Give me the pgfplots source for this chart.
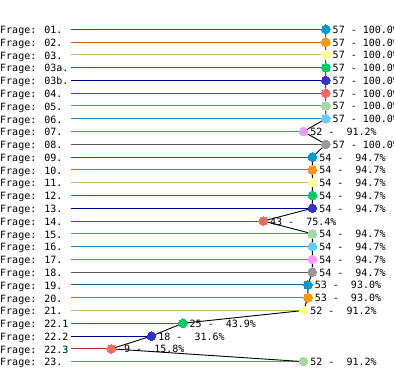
\documentclass[border=0pt]{standalone}
\usepackage{fontspec}
\setmainfont{DejaVu Sans Mono}
\usepackage{pgfplots}
\pgfplotsset{compat=1.18}
\definecolor{l0}{RGB}{26,90,138}
\definecolor{l1}{RGB}{204,102,0}
\definecolor{l2}{RGB}{195,190,90}
\definecolor{l3}{RGB}{30,130,50}
\definecolor{l4}{RGB}{0,0,140}
\definecolor{l5}{RGB}{190,40,40}
\definecolor{l6}{RGB}{100,155,95}
\definecolor{l7}{RGB}{30,140,200}
\definecolor{l8}{RGB}{180,90,190}
\definecolor{l9}{RGB}{90,90,90}
\definecolor{m0}{RGB}{0,153,204}
\definecolor{m1}{RGB}{255,153,0}
\definecolor{m2}{RGB}{255,255,153}
\definecolor{m3}{RGB}{0,204,102}
\definecolor{m4}{RGB}{51,51,204}
\definecolor{m5}{RGB}{255,102,102}
\definecolor{m6}{RGB}{165,215,165}
\definecolor{m7}{RGB}{102,204,255}
\definecolor{m8}{RGB}{255,153,255}
\definecolor{m9}{RGB}{153,153,153}
\pgfplotsset{
  rowline/.style 2 args={xcomb, color=#1, line width=1pt, mark=*, mark size=4.3pt,
    mark options={fill=#2, draw=#2, line width=0pt, solid}},
}
\begin{document}
\begin{tikzpicture}
\begin{axis}[
  at={(0,0)}, anchor=south west,
  scale only axis, width=394pt, height=373pt,
  hide axis, clip=false,
  xmin=-15.88, xmax=72.26,
  y dir=reverse, ymin=-2.29, ymax=26.89,
]
\addplot[rowline={l0}{m0}] coordinates {(57,0) (54,10) (53,20)};
\addplot[rowline={l1}{m1}] coordinates {(57,1) (54,11) (53,21)};
\addplot[rowline={l2}{m2}] coordinates {(57,2) (54,12) (52,22)};
\addplot[rowline={l3}{m3}] coordinates {(57,3) (54,13) (25,23)};
\addplot[rowline={l4}{m4}] coordinates {(57,4) (54,14) (18,24)};
\addplot[rowline={l5}{m5}] coordinates {(57,5) (43,15) (9,25)};
\addplot[rowline={l6}{m6}] coordinates {(57,6) (54,16) (52,26)};
\addplot[rowline={l7}{m7}] coordinates {(57,7) (54,17)};
\addplot[rowline={l8}{m8}] coordinates {(52,8) (54,18)};
\addplot[rowline={l9}{m9}] coordinates {(57,9) (54,19)};
% connecting line with value labels
\addplot[black, line width=0.9pt, mark=none,
  nodes near coords, point meta=explicit symbolic,
  every node near coord/.style={anchor=base west, inner sep=0pt, xshift=6.5pt, yshift=-4pt, text=black, font=\fontsize{10}{12}\selectfont}]
coordinates {
(57,0) [57 - 100.0\%]
(57,1) [57 - 100.0\%]
(57,2) [57 - 100.0\%]
(57,3) [57 - 100.0\%]
(57,4) [57 - 100.0\%]
(57,5) [57 - 100.0\%]
(57,6) [57 - 100.0\%]
(57,7) [57 - 100.0\%]
(52,8) [52 -~ 91.2\%]
(57,9) [57 - 100.0\%]
(54,10) [54 -~ 94.7\%]
(54,11) [54 -~ 94.7\%]
(54,12) [54 -~ 94.7\%]
(54,13) [54 -~ 94.7\%]
(54,14) [54 -~ 94.7\%]
(43,15) [43 -~ 75.4\%]
(54,16) [54 -~ 94.7\%]
(54,17) [54 -~ 94.7\%]
(54,18) [54 -~ 94.7\%]
(54,19) [54 -~ 94.7\%]
(53,20) [53 -~ 93.0\%]
(53,21) [53 -~ 93.0\%]
(52,22) [52 -~ 91.2\%]
(25,23) [25 -~ 43.9\%]
(18,24) [18 -~ 31.6\%]
(9,25) [\hphantom{0}9 -~ 15.8\%]
(52,26) [52 -~ 91.2\%]
};
% row labels
\addplot[draw=none, mark=none,
  nodes near coords, point meta=explicit symbolic,
  every node near coord/.style={anchor=base west, inner sep=0pt, yshift=-4.3pt, text=black, font=\fontsize{10}{12}\selectfont}]
coordinates {
(-15.88,0) [Frage: 01.]
(-15.88,1) [Frage: 02.]
(-15.88,2) [Frage: 03.]
(-15.88,3) [Frage: 03a.]
(-15.88,4) [Frage: 03b.]
(-15.88,5) [Frage: 04.]
(-15.88,6) [Frage: 05.]
(-15.88,7) [Frage: 06.]
(-15.88,8) [Frage: 07.]
(-15.88,9) [Frage: 08.]
(-15.88,10) [Frage: 09.]
(-15.88,11) [Frage: 10.]
(-15.88,12) [Frage: 11.]
(-15.88,13) [Frage: 12.]
(-15.88,14) [Frage: 13.]
(-15.88,15) [Frage: 14.]
(-15.88,16) [Frage: 15.]
(-15.88,17) [Frage: 16.]
(-15.88,18) [Frage: 17.]
(-15.88,19) [Frage: 18.]
(-15.88,20) [Frage: 19.]
(-15.88,21) [Frage: 20.]
(-15.88,22) [Frage: 21.]
(-15.88,23) [Frage: 22.1]
(-15.88,24) [Frage: 22.2]
(-15.88,25) [Frage: 22.3]
(-15.88,26) [Frage: 23.]
};
\end{axis}
\pgfresetboundingbox
\useasboundingbox (0,0) rectangle (394pt,373pt);
\end{tikzpicture}
\end{document}
